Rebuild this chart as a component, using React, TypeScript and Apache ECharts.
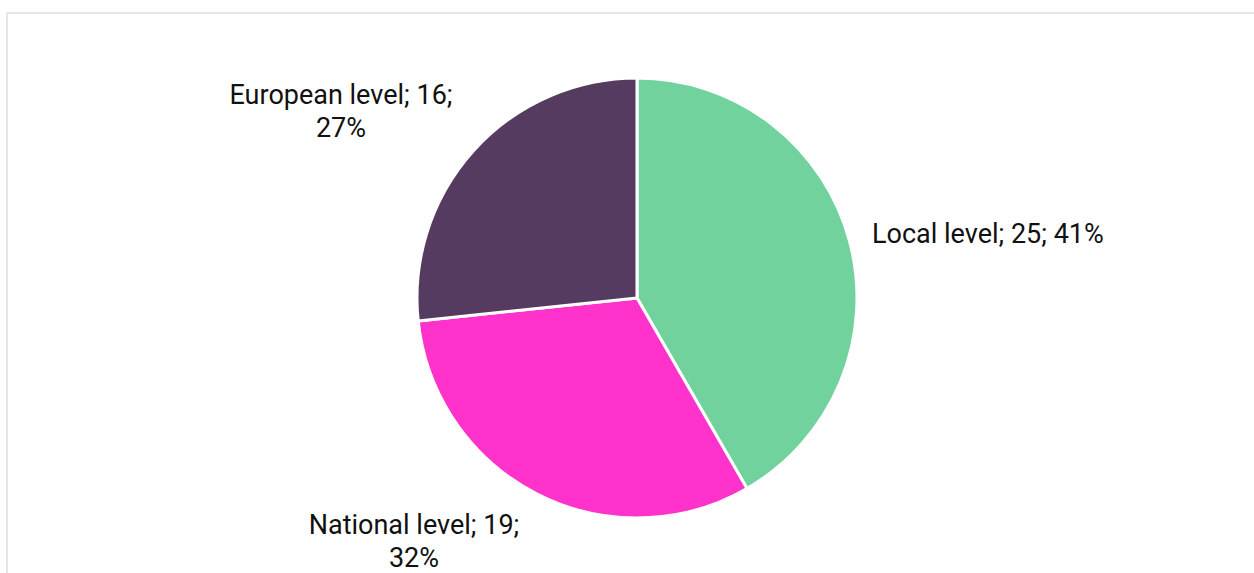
import React, { useEffect, useRef } from "react";
import * as echarts from "echarts";

const categories = ["Local level", "National level", "European level"];
const values = [25, 19, 16];
const percentLabels = ["41%", "32%", "27%"];
const colors = ["#71D29D", "#FF33CC", "#553B5F"];

// label anchor placement (layout only)
const labelPlacement = [
  { x: 872, y: 234, align: "left" },
  { x: 414, y: 541, align: "center" },
  { x: 341, y: 111, align: "center" },
];

export default function App() {
  const ref = useRef<HTMLDivElement>(null);
  useEffect(() => {
    if (!ref.current) return;
    const chart = echarts.init(ref.current, null, { renderer: "svg" });
    const data = categories.map((name, i) => ({
      name,
      value: values[i],
      itemStyle: { color: colors[i] },
    }));
    chart.setOption({
      animation: false,
      backgroundColor: "#ffffff",
      graphic: [
        {
          type: "rect",
          shape: { x: 7, y: 13, width: 1400, height: 700 },
          style: { fill: "none", stroke: "#e6e6e6", lineWidth: 2 },
          silent: true,
        },
      ],
      series: [
        {
          type: "pie",
          center: [637, 298],
          radius: [0, 220],
          startAngle: 90,
          clockwise: true,
          data,
          itemStyle: { borderColor: "#ffffff", borderWidth: 3 },
          labelLine: { show: false },
          label: {
            show: true,
            position: "outside",
            color: "#111111",
            fontSize: 27,
            fontFamily: "Roboto",
            lineHeight: 33,
            align: "center",
            formatter: (p: any) => {
              const i = p.dataIndex;
              if (i === 0) return `${p.name}; ${p.value}; ${percentLabels[i]}`;
              return `${p.name}; ${p.value};\n${percentLabels[i]}`;
            },
          },
          labelLayout: (params: any) => {
            const pl = labelPlacement[params.dataIndex];
            return { x: pl.x, y: pl.y, align: pl.align, verticalAlign: "middle" };
          },
        },
      ],
    });
    return () => chart.dispose();
  }, []);
  return (
    <div
      ref={ref}
      style={{ position: "absolute", left: 0, top: 0, width: 1254, height: 573 }}
    />
  );
}
